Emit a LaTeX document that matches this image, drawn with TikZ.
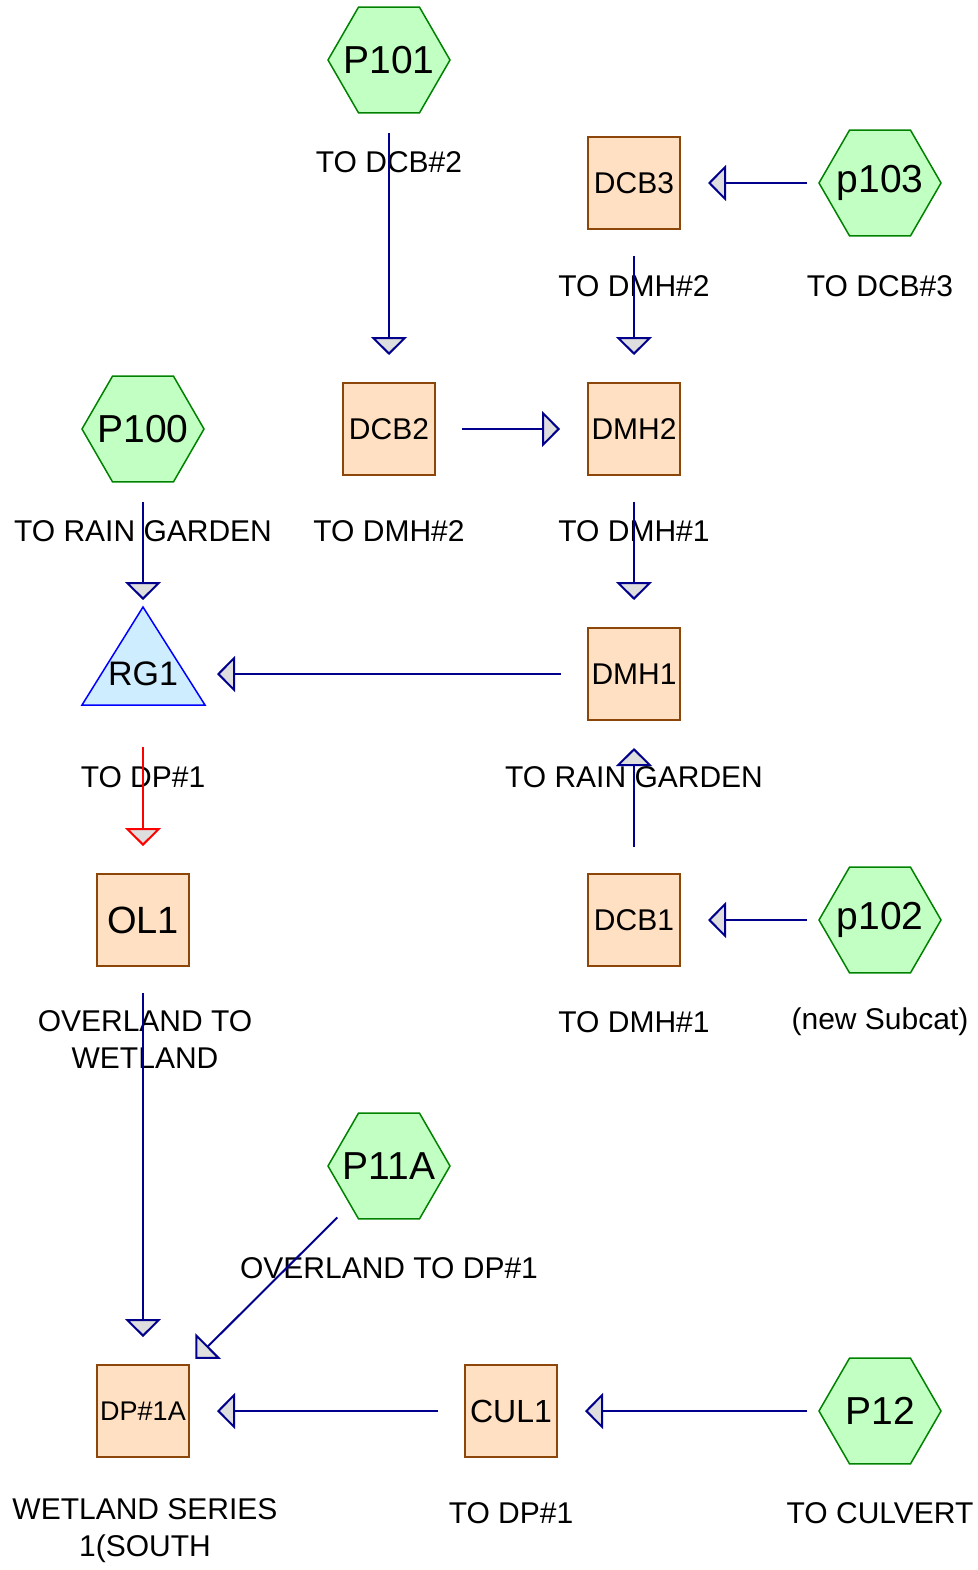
\documentclass[tikz,border=0pt]{standalone}
\usepackage{fontspec}
\setmainfont{Liberation Sans}
\usetikzlibrary{shapes.geometric, arrows.meta, positioning}
\definecolor{flowblue}{RGB}{0,0,140}
\definecolor{tipgray}{RGB}{222,222,222}
\definecolor{boxfill}{RGB}{255,224,194}
\definecolor{boxline}{RGB}{140,70,10}
\definecolor{hexfill}{RGB}{194,255,194}
\definecolor{hexline}{RGB}{0,130,0}
\definecolor{rgfill}{RGB}{206,238,255}
\tikzset{
x=1pt, y=-1pt, % one unit is one pixel of the sketch, y runs downwards
subcat/.style={regular polygon, regular polygon sides=6, minimum size=122pt, inner sep=0pt,
  draw=hexline, fill=hexfill, line width=1.5pt, font=\fontsize{39}{40}\selectfont,
  execute at begin node={\hbox to 0pt\bgroup\hss}, execute at end node={\hss\egroup}}, % catchments, text does not widen the hexagon
pond/.style={rectangle, minimum size=92pt, inner sep=0pt,
  draw=boxline, fill=boxfill, line width=2pt, font=\fontsize{30}{32}\selectfont}, % structures
lbl/.style={font=\fontsize{30}{37}\selectfont, align=center, inner sep=0pt}, % outlet texts
flow/.style={draw=flowblue, line width=2pt, shorten <=73pt, shorten >=74pt,
  -{Triangle[length=18pt, width=36pt, fill=tipgray]}}, % links
}
\begin{document}
\begin{tikzpicture}
            \useasboundingbox (0,0) rectangle (977,1570);
            % rain garden outline
            \draw[draw=blue, fill=rgfill, line width=1.5pt, line join=miter]
                (82,705) -- (143,607) -- (205,705) -- cycle;
            \node[subcat] (P101) at (389,60) {P101};
            \node[subcat] (p103) at (880,183) {p103};
            \node[subcat] (P100) at (143,429) {P100};
            \node[subcat] (p102) at (880,920) {p102};
            \node[subcat] (P11A) at (389,1166) {P11A};
            \node[subcat] (P12) at (880,1411) {P12};
            \node[pond] (DCB3) at (634,183) {DCB3};
            \node[pond] (DCB2) at (389,429) {DCB2};
            \node[pond] (DMH2) at (634,429) {DMH2};
            \node[pond] (DMH1) at (634,674) {DMH1};
            \node[pond] (DCB1) at (634,920) {DCB1};
            \node[pond, font=\fontsize{38}{40}\selectfont] (OL1) at (143,920) {OL1};
            \node[pond, font=\fontsize{27}{30}\selectfont] (DP1A) at (143,1411) {DP\#1A};
            \node[pond, font=\fontsize{32}{34}\selectfont] (CUL1) at (511,1411) {CUL1};
            \node[inner sep=0pt, font=\fontsize{34}{36}\selectfont] (RG1) at (143,674) {RG1};
            % outlet texts
            \node[lbl] (tP101) at (389,162) {TO DCB\#2};
            \node[lbl] (tDCB3) at (634,286) {TO DMH\#2};
            \node[lbl] (tp103) at (880,286) {TO DCB\#3};
            \node[lbl] (tP100) at (143,531) {TO RAIN GARDEN};
            \node[lbl] (tDCB2) at (389,531) {TO DMH\#2};
            \node[lbl] (tDMH2) at (634,531) {TO DMH\#1};
            \node[lbl] (tRG1) at (143,777) {TO DP\#1};
            \node[lbl] (tDMH1) at (634,777) {TO RAIN GARDEN};
            \node[lbl] (tOL1) at (145,1040) {OVERLAND TO\\WETLAND};
            \node[lbl] (tDCB1) at (634,1022) {TO DMH\#1};
            \node[lbl] (tp102) at (880,1022) {(new Subcat)};
            \node[lbl] (tP11A) at (389,1268) {OVERLAND TO DP\#1};
            \node[lbl] (tDP1A) at (145,1531) {WETLAND SERIES\\1(SOUTH};
            \node[lbl] (tCUL1) at (511,1513) {TO DP\#1};
            \node[lbl] (tP12) at (880,1513) {TO CULVERT};
            \draw
                (P101.center) edge[flow] (DCB2.center)
                (p103.center) edge[flow] (DCB3.center)
                (DCB3.center) edge[flow] (DMH2.center)
                (DCB2.center) edge[flow] (DMH2.center)
                (P100.center) edge[flow] (RG1.center)
                (DMH2.center) edge[flow] (DMH1.center)
                (DMH1.center) edge[flow] (RG1.center)
                (RG1.center) edge[flow, draw=red] (OL1.center)
                (DCB1.center) edge[flow] (DMH1.center)
                (p102.center) edge[flow] (DCB1.center)
                (OL1.center) edge[flow] (DP1A.center)
                (P11A.center) edge[flow] (DP1A.center)
                (CUL1.center) edge[flow] (DP1A.center)
                (P12.center) edge[flow] (CUL1.center)
                ;
            \end{tikzpicture}
\end{document}
